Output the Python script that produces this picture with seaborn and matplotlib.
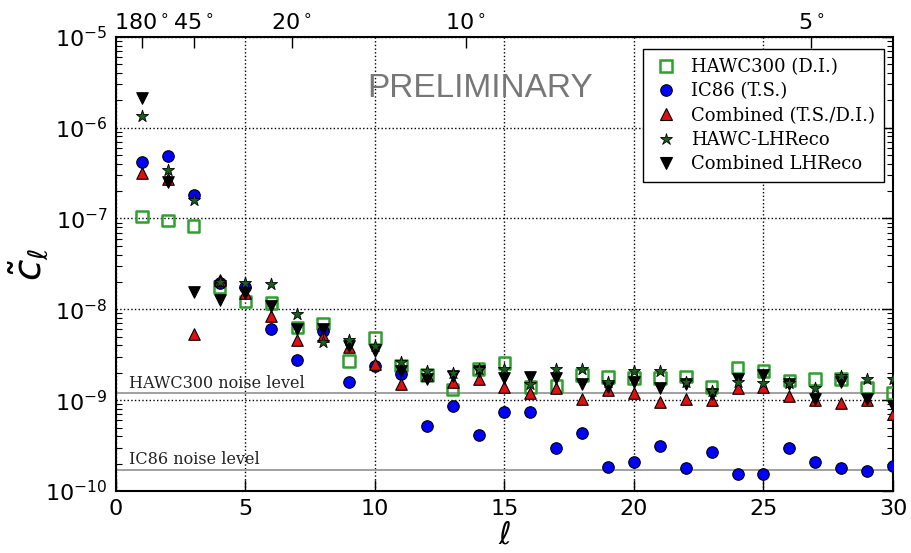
import matplotlib
matplotlib.use("Agg")
import matplotlib.pyplot as plt
import numpy as np
import pandas as pd
import seaborn as sns
from matplotlib.ticker import LogLocator
from matplotlib.lines import Line2D

# ---------------- data ----------------
ell = list(range(1, 31))
hawc300 = [1.05e-7, 9.5e-8, 8.3e-8, 1.76e-8, 1.22e-8, 1.17e-8, 6.3e-9, 7.0e-9, 2.7e-9, 4.85e-9,
           2.4e-9, 1.9e-9, 1.31e-9, 2.2e-9, 2.58e-9, 1.4e-9, 1.44e-9, 1.9e-9, 1.8e-9, 1.76e-9,
           1.76e-9, 1.83e-9, 1.4e-9, 2.3e-9, 2.1e-9, 1.65e-9, 1.7e-9, 1.7e-9, 1.37e-9, 1.2e-9]
ic86 = [4.2e-7, 4.9e-7, 1.8e-7, 1.95e-8, 1.76e-8, 6.1e-9, 2.75e-9, 5.8e-9, 1.58e-9, 2.37e-9,
        1.96e-9, 5.2e-10, 8.7e-10, 4.1e-10, 7.4e-10, 7.4e-10, 3.0e-10, 4.4e-10, 1.85e-10, 2.1e-10,
        3.1e-10, 1.8e-10, 2.7e-10, 1.52e-10, 1.54e-10, 3.0e-10, 2.1e-10, 1.78e-10, 1.65e-10, 1.9e-10]
combined = [3.2e-7, 2.7e-7, 5.4e-9, 2.1e-8, 1.5e-8, 8.4e-9, 4.6e-9, 5.1e-9, 3.8e-9, 2.5e-9,
            1.52e-9, 1.9e-9, 1.6e-9, 1.7e-9, 1.4e-9, 1.2e-9, 1.37e-9, 1.03e-9, 1.3e-9, 1.2e-9,
            9.5e-10, 1.04e-9, 1.0e-9, 1.37e-9, 1.4e-9, 1.1e-9, 1.0e-9, 9.3e-10, 1.0e-9, 7.1e-10]
hawc_lhreco = [1.35e-6, 3.4e-7, 1.6e-7, 2.0e-8, 1.95e-8, 1.9e-8, 8.9e-9, 4.4e-9, 4.6e-9, 3.9e-9,
               2.6e-9, 2.1e-9, 2.0e-9, 2.2e-9, 2.2e-9, 1.5e-9, 2.2e-9, 2.2e-9, 1.6e-9, 2.1e-9,
               2.1e-9, 1.6e-9, 1.25e-9, 1.6e-9, 1.55e-9, 1.55e-9, 1.35e-9, 1.83e-9, 1.7e-9, 1.7e-9]
combined_lhreco = [2.1e-6, 2.5e-7, 1.54e-8, 1.28e-8, 1.5e-8, 1.1e-8, 6.0e-9, 6.0e-9, 3.9e-9, 3.5e-9,
                   2.1e-9, 1.7e-9, 1.86e-9, 2.1e-9, 1.76e-9, 1.8e-9, 1.76e-9, 1.5e-9, 1.4e-9, 1.6e-9,
                   1.37e-9, 1.5e-9, 1.16e-9, 1.7e-9, 1.9e-9, 1.5e-9, 1.03e-9, 1.6e-9, 1.03e-9, 8.6e-10]

hawc_noise = 1.19e-9
ic86_noise = 1.71e-10

top_tick_pos = [1, 3, 6.78, 13.5, 26.85]
top_tick_labels = ["180$^\\circ$", "45$^\\circ$", "20$^\\circ$", "10$^\\circ$", "5$^\\circ$"]

series_labels = ["HAWC300 (D.I.)", "IC86 (T.S.)", "Combined (T.S./D.I.)", "HAWC-LHReco", "Combined LHReco"]

# ---------------- plot ----------------
sns.set_style("white")
plt.rcParams["font.family"] = ["DejaVu Sans"]
plt.rcParams["mathtext.fontset"] = "dejavusans"
plt.rcParams["axes.unicode_minus"] = False
for k in ["text.color", "axes.labelcolor", "xtick.color", "ytick.color"]:
    plt.rcParams[k] = "black"

fig = plt.figure(figsize=(9.11, 5.53), dpi=100)
ax = fig.add_axes([0.1273, 0.1121, 0.8529, 0.8215])

df = pd.DataFrame({"ell": ell, "hawc300": hawc300, "ic86": ic86, "combined": combined,
                   "hawc_lh": hawc_lhreco, "comb_lh": combined_lhreco})

GREEN = "#2ea02e"
BLUE = "#0000ff"
RED = "#e01010"
DKGREEN = "#1b5e20"

ms = 8.3
sns.scatterplot(data=df, x="ell", y="hawc300", ax=ax, marker="s", s=ms**2,
                facecolors="none", edgecolors=GREEN, linewidths=1.8, zorder=3)
sns.scatterplot(data=df, x="ell", y="ic86", ax=ax, marker="o", s=ms**2,
                color=BLUE, edgecolor="black", linewidth=0.8, zorder=4)
sns.scatterplot(data=df, x="ell", y="combined", ax=ax, marker="^", s=ms**2,
                color=RED, edgecolor="black", linewidth=0.8, zorder=5)
sns.scatterplot(data=df, x="ell", y="comb_lh", ax=ax, marker="v", s=ms**2,
                color="black", edgecolor="black", linewidth=0.8, zorder=6)
sns.scatterplot(data=df, x="ell", y="hawc_lh", ax=ax, marker="*", s=(ms*1.1)**2,
                color=DKGREEN, edgecolor="black", linewidth=0.6, zorder=7)

ax.set_yscale("log")
ax.set_xlim(0, 30)
ax.set_ylim(1e-10, 1e-5)

# noise levels
ax.axhline(hawc_noise, color="#999999", lw=1.3, zorder=1)
ax.axhline(ic86_noise, color="#999999", lw=1.3, zorder=1)
ax.text(0.5, hawc_noise * 1.04, "HAWC300 noise level", family="DejaVu Serif", fontsize=11.5,
        color="#222222", va="bottom", ha="left")
ax.text(0.5, ic86_noise * 1.04, "IC86 noise level", family="DejaVu Serif", fontsize=11.5,
        color="#222222", va="bottom", ha="left")

ax.text(0.468, 0.887, "PRELIMINARY", transform=ax.transAxes, family="Liberation Sans",
        fontsize=24, color="#777777", ha="center", va="center")

# grid & ticks
ax.set_xticks([0, 5, 10, 15, 20, 25, 30])
ax.yaxis.set_major_locator(LogLocator(base=10, numticks=10))
ax.yaxis.set_minor_locator(LogLocator(base=10, subs=np.arange(2, 10), numticks=20))
ax.grid(True, which="major", color="black", linestyle=":", linewidth=1.0)
ax.tick_params(axis="both", which="major", direction="in", length=8, width=1,
               labelsize=16, right=True, top=False, pad=6)
ax.tick_params(axis="y", which="minor", direction="in", length=4, width=0.8, right=True, left=True)
for sp in ax.spines.values():
    sp.set_color("black")
    sp.set_linewidth(1.5)

ax.set_xlabel("$\\ell$", fontsize=22, labelpad=1)
ax.set_ylabel("$\\tilde{c}_\\ell$", fontsize=28, labelpad=-3)

ax2 = ax.twiny()
ax2.set_xlim(0, 30)
ax2.set_xticks(top_tick_pos)
ax2.set_xticklabels(top_tick_labels)
ax2.set_xlabel("")
ax2.tick_params(axis="x", direction="in", length=8, width=1, labelsize=16, pad=2)
ax2.grid(False)
for sp in ax2.spines.values():
    sp.set_visible(False)

# legend
handles = [
    Line2D([], [], marker="s", ls="", ms=ms, mfc="white", mec=GREEN, mew=1.8),
    Line2D([], [], marker="o", ls="", ms=ms, mfc=BLUE, mec="black", mew=0.8),
    Line2D([], [], marker="^", ls="", ms=ms, mfc=RED, mec="black", mew=0.8),
    Line2D([], [], marker="*", ls="", ms=ms*1.1, mfc=DKGREEN, mec="black", mew=0.6),
    Line2D([], [], marker="v", ls="", ms=ms, mfc="black", mec="black", mew=0.8),
]
leg = ax.legend(handles, series_labels, loc="upper right", bbox_to_anchor=(0.996, 0.985),
                prop={"family": "DejaVu Serif", "size": 13}, frameon=True, fancybox=False,
                framealpha=1, edgecolor="black", borderpad=0.5, labelspacing=0.35,
                handletextpad=0.6, handlelength=1.6, borderaxespad=0.3)
leg.get_frame().set_linewidth(1.0)
leg.set_zorder(20)

fig.savefig("out.png", dpi=100)
